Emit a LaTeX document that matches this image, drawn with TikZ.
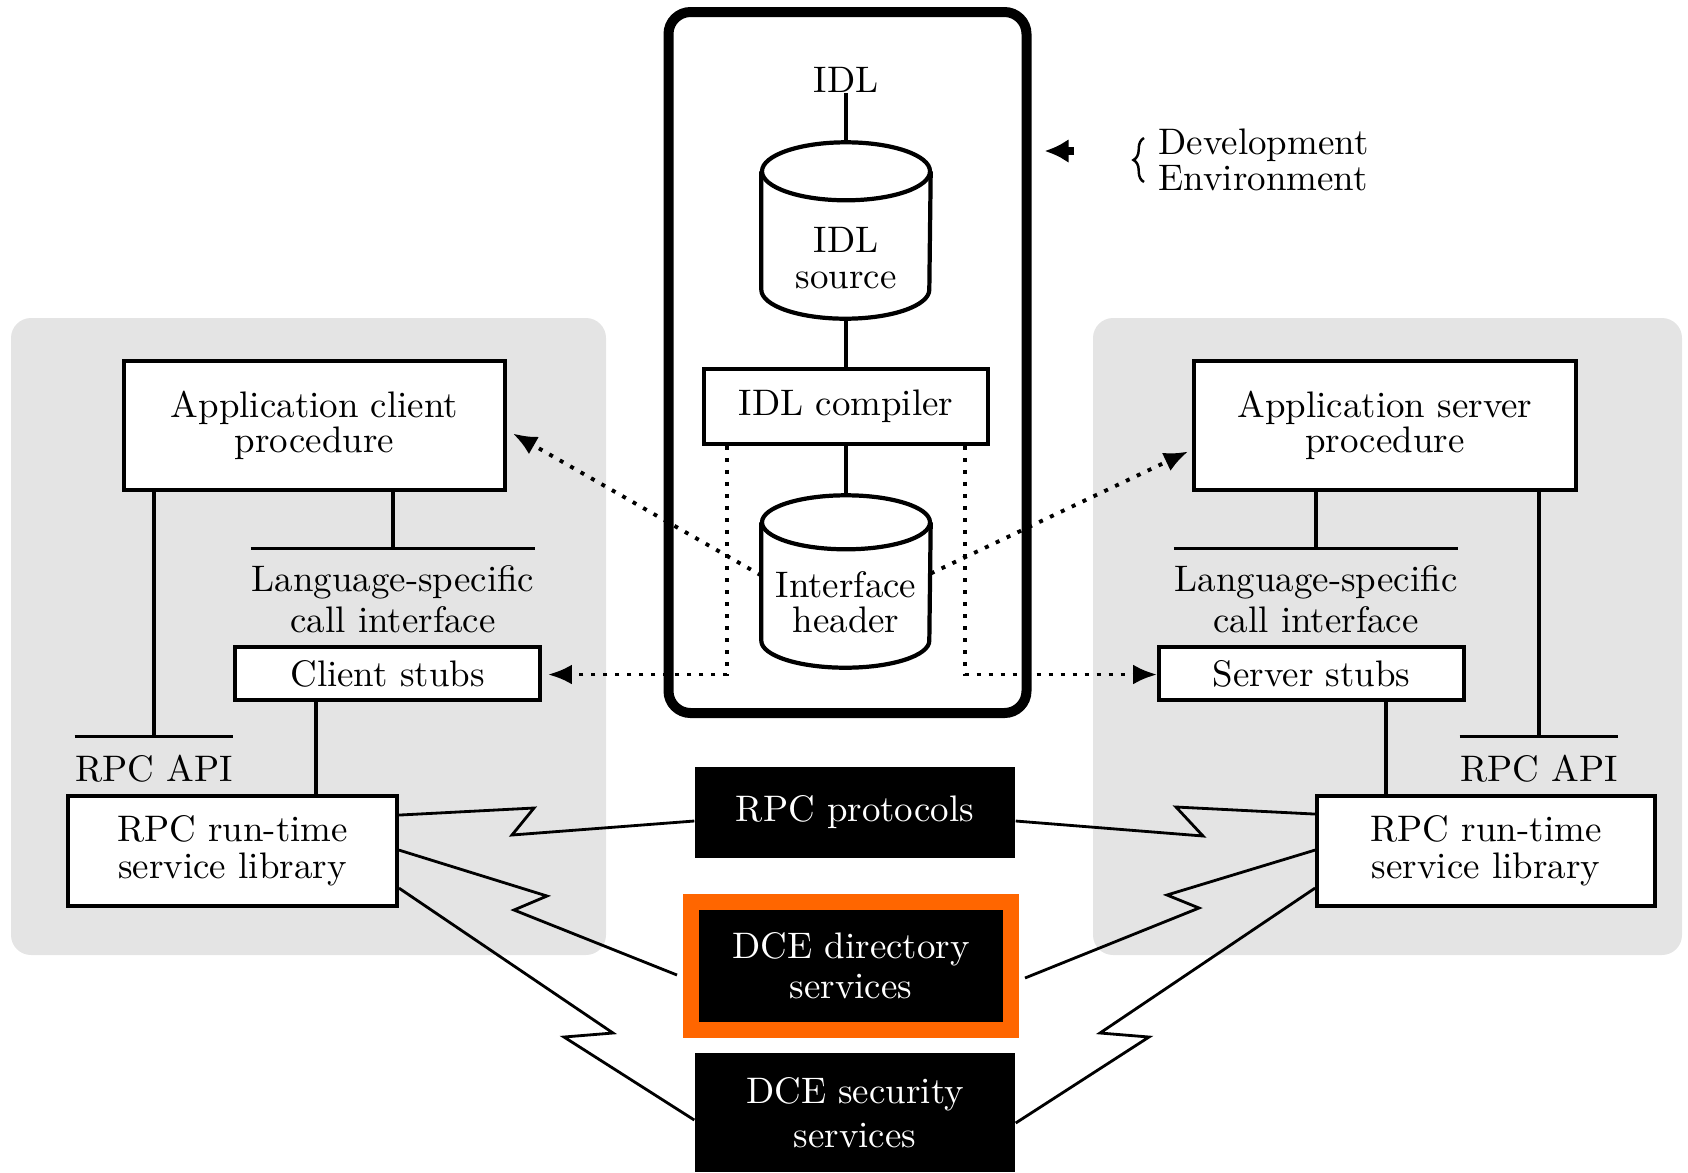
\documentclass[tikz,border=0pt]{standalone}
\usetikzlibrary{arrows.meta,calc,decorations.pathreplacing}
\definecolor{regiongray}{RGB}{228,228,228}
\definecolor{dceorange}{RGB}{255,102,0}
\begin{document}
\begin{tikzpicture}[x=0.01cm,y=-0.01cm,
  sz/.style 2 args={minimum width=#1*0.01cm, minimum height=#2*0.01cm},
  txt/.style={font=\fontsize{10.5}{10}\selectfont, align=center, inner sep=0pt},
  box/.style={txt, draw, line width=1.1pt, fill=white},
  blk/.style={txt, fill=black, text=white},
  region/.style={fill=regiongray, draw=none, rounded corners=0.2cm},
  devframe/.style={draw, line width=0.1cm, rounded corners=0.22cm, fill=white},
  cyl/.style={inner sep=0pt},
  cylline/.style={line width=1.2pt, fill=white},
  ln/.style={line width=0.9pt},
  zz/.style={line width=0.8pt},
  dotarrow/.style={line width=1.1pt, dash pattern=on 0.04cm off 0.08cm,
    -{Latex[length=0.24cm,width=0.2cm]}},
]
\useasboundingbox (0,0) rectangle (1688,1172);

% client and server areas
\node[region, sz={595}{637}] (cliReg) at (308.5,636.5) {};
\node[region, sz={589}{637}] (srvReg) at (1387.5,636.5) {};

% development environment frame
\node[devframe, sz={358}{701}] (dev) at (847.5,362.5) {};

% IDL tool chain
\node[txt] (idl) at (846,80) {IDL};
\node[cyl, sz={168}{175}] (src) at (846,230.5) {};
\node[cyl, sz={168}{171}] (hdr) at (846,581.5) {};
\foreach \c/\ry in {src/29, hdr/27}{
  \draw[cylline] ($(\c.north west)+(0,\ry)$) -- ($(\c.south west)+(0,-\ry)$)
    arc[start angle=180, end angle=0, x radius=84, y radius=\ry]
    -- ($(\c.north east)+(0,\ry)$);
  \draw[cylline] ($(\c.north)+(0,\ry)$) ellipse [x radius=84, y radius=\ry];
}
\node[txt] (srcT) at (846,258) {IDL\\source};
\node[txt] (hdrT) at (846,602) {Interface\\header};
\node[box, sz={284}{75}] (comp) at (846,406.5) {IDL compiler};

\draw[ln] (idl) -- (src.north);
\draw[ln] (src.south) -- (comp.north);
\draw[ln] (comp.south) -- (hdr.north);

% client side
\node[box, sz={381}{129}] (appC) at (314.5,425.5) {\raisebox{-0.7ex}{Application client}\\\raisebox{-0.7ex}{procedure}};
\node[txt, sz={282}{101}] (lsC) at (393,599.5) {Language-specific\\[1.7pt]call interface};
\node[box, sz={305}{53}] (stubC) at (387.5,673.5) {Client stubs};
\node[box, sz={329}{110}] (rtC) at (232.5,851) {RPC run-time\\[0.5pt]service library};
\node[txt, sz={152}{64}] (apiC) at (154,769) {RPC API};

\draw[ln] (lsC.north west) -- (lsC.north east);
\draw[ln] (apiC.north west) -- (apiC.north east);
\draw[ln] (appC.south -| lsC.north) -- (lsC.north);
\draw[ln] (appC.south -| apiC.north) -- (apiC.north);
\draw[ln] ([xshift=-0.715cm]stubC.south) -- ([xshift=-0.715cm]stubC.south |- rtC.north);

% server side
\node[box, sz={382}{129}] (appS) at (1385,425.5) {\raisebox{-0.7ex}{Application server}\\\raisebox{-0.7ex}{procedure}};
\node[txt, sz={282}{101}] (lsS) at (1316,599.5) {Language-specific\\[1.7pt]call interface};
\node[box, sz={305}{53}] (stubS) at (1311.5,673.5) {Server stubs};
\node[box, sz={338}{110}] (rtS) at (1486,851) {RPC run-time\\[0.5pt]service library};
\node[txt, sz={152}{64}] (apiS) at (1539,769) {RPC API};

\draw[ln] (lsS.north west) -- (lsS.north east);
\draw[ln] (apiS.north west) -- (apiS.north east);
\draw[ln] (appS.south -| lsS.north) -- (lsS.north);
\draw[ln] (appS.south -| apiS.north) -- (apiS.north);
\draw[ln] ([xshift=0.745cm]stubS.south) -- ([xshift=0.745cm]stubS.south |- rtS.north);

% DCE services
\node[blk, sz={320}{91}] (proto) at (855,812.5) {RPC protocols};
\node[blk, draw=dceorange, line width=0.16cm, sz={320}{128}] (dir) at (851,966) {DCE directory\\[1.4pt]services};
\node[blk, sz={320}{119}] (sec) at (855,1112.5) {DCE security\\[2.5pt]services};

% generated code flows out of the header
\draw[dotarrow] ($(hdr.west)+(0,-6)$) -- ($(appC.east)+(6,8)$);
\draw[dotarrow] ($(hdr.east)+(0,-8)$) -- ($(appS.west)+(-4,26)$);
\draw[dotarrow] ($(comp.south)+(-119,0)$) |- ($(stubC.east)+(6,1)$);
\draw[dotarrow] ($(comp.south)+(119,0)$) |- ($(stubS.west)+(0,1)$);

% network links from the run-time libraries
\draw[zz] ($(rtC.north east)+(0,21)$) -- (534,808) -- (512,835) -- ($(proto.west)+(0,8.5)$);
\draw[zz] ($(proto.east)+(0,8.5)$) -- (1203,836) -- (1176,807) -- ($(rtS.north west)+(0,20)$);
\draw[zz] ($(rtC.north east)+(0,56)$) -- (547,896) -- (514,910) -- ($(dir.west)+(-6,9)$);
\draw[zz] ($(dir.east)+(6,12)$) -- (1199,908) -- (1167,895) -- ($(rtS.north west)+(0,56)$);
\draw[zz] ($(rtC.north east)+(0,94)$) -- (613,1033) -- (564,1037) -- ($(sec.west)+(0,7.5)$);
\draw[zz] ($(sec.east)+(0,10.5)$) -- (1149,1037) -- (1100,1033) -- ($(rtS.north west)+(0,94)$);

% development environment legend
\coordinate (devA) at (1074,151);
\draw[line width=2pt, -{Latex[length=0.24cm,width=0.24cm]}, shorten >=0.13cm] (devA) -- (devA -| dev.east);
\node[txt, align=left, anchor=west, font=\fontsize{10.5}{9}\selectfont] (devT) at (1158,160) {Development\\Environment};
\draw[line width=0.7pt, decorate, decoration={brace, amplitude=3pt}]
  ($(devT.west)+(-14,22)$) -- ($(devT.west)+(-14,-22)$);
\end{tikzpicture}
\end{document}
